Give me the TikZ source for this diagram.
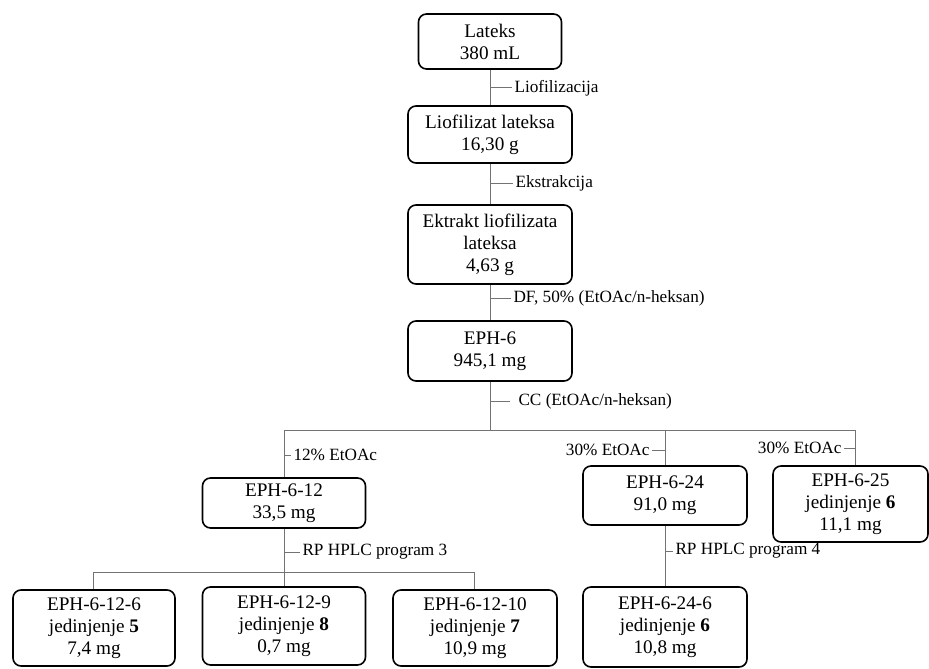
\documentclass[tikz,border=0pt]{standalone}
\usepackage{fontspec}
\setmainfont{Liberation Serif}
\tikzset{
  box/.style={draw, rounded corners=4pt, line width=0.8pt, align=center, inner sep=0pt,
    font=\fontsize{9.6}{11}\selectfont},
  link/.style={draw=black!55, line width=0.5pt},
  lbl/.style={font=\fontsize{8.6}{10}\selectfont, inner sep=1pt}
}
\begin{document}
\begin{tikzpicture}[x=0.5pt, y=-0.5pt]
    \useasboundingbox (0,0) rectangle (929,668);
    % main column
    \node[box, minimum width=71.5pt, minimum height=27.5pt] (lateks) at (490,41.5) {Lateks\\380 mL};
    \node[box, minimum width=82pt, minimum height=28.5pt] (liof) at (490,134.5) {Liofilizat lateksa\\16,30 g};
    \node[box, minimum width=82pt, minimum height=39.5pt] (ekstr) at (490,244.5) {Ektrakt liofilizata\\lateksa\\4,63 g};
    \node[box, minimum width=82pt, minimum height=30pt] (eph6) at (490,351) {EPH-6\\945,1 mg};
    % fractions
    \node[box, minimum width=81.5pt, minimum height=25pt] (eph612) at (284,503) {EPH-6-12\\33,5 mg};
    \node[box, minimum width=82pt, minimum height=29.5pt] (eph624) at (665,495.5) {EPH-6-24\\91,0 mg};
    \node[box, minimum width=77.5pt, minimum height=38pt] (eph625) at (850.5,504) {EPH-6-25\\jedinjenje \textbf{6}\\11,1 mg};
    % compounds
    \node[box, minimum width=81pt, minimum height=38pt] (eph6126) at (94,628) {EPH-6-12-6\\jedinjenje \textbf{5}\\7,4 mg};
    \node[box, minimum width=81.5pt, minimum height=39pt] (eph6129) at (284,626) {EPH-6-12-9\\jedinjenje \textbf{8}\\0,7 mg};
    \node[box, minimum width=82pt, minimum height=38pt] (eph61210) at (475,628) {EPH-6-12-10\\jedinjenje \textbf{7}\\10,9 mg};
    \node[box, minimum width=82pt, minimum height=40pt] (eph6246) at (665,627) {EPH-6-24-6\\jedinjenje \textbf{6}\\10,8 mg};

    \draw[link] (lateks) -- (liof);
    \draw[link] (liof) -- (ekstr);
    \draw[link] (ekstr) -- (eph6);
    \draw[link] (490,88) -- ++(22,0) node[lbl, right] {Liofilizacija};
    \draw[link] (490,183) -- ++(23,0) node[lbl, right] {Ekstrakcija};
    \draw[link] (490,298) -- ++(21,0) node[lbl, right] {DF, 50\% (EtOAc/n-heksan)};

    % column chromatography
    \coordinate (bus) at (490,430);
    \coordinate (busL) at (284,430);
    \coordinate (busM) at (665,430);
    \coordinate (busR) at (855,430);
    \draw[link] (eph6) -- (bus);
    \draw[link] (490,401) -- ++(20,0) node[lbl, right, xshift=3pt] {CC (EtOAc/n-heksan)};
    \draw[link] (busL) -- (busR);
    \draw[link] (busL) -- (eph612);
    \draw[link] (busM) -- (eph624);
    \draw[link] (busR) -- (busR |- eph625.north);
    \draw[link] (284,455) -- ++(7,0) node[lbl, right] {12\% EtOAc};
    \draw[link] (665,450) -- ++(-13,0) node[lbl, left] {30\% EtOAc};
    \draw[link] (855,448) -- ++(-11,0) node[lbl, left] {30\% EtOAc};

    % HPLC
    \coordinate (lowL) at (93,572);
    \coordinate (lowR) at (474,572);
    \draw[link] (eph612) -- (eph6129);
    \draw[link] (lowL) -- (lowR);
    \draw[link] (lowL) -- (lowL |- eph6126.north);
    \draw[link] (lowR) -- (lowR |- eph61210.north);
    \draw[link] (284,552) -- ++(16,0) node[lbl, right] {RP HPLC program 3};
    \draw[link] (eph624) -- (eph6246);
    \draw[link] (665,551) -- ++(8,0) node[lbl, right] {RP HPLC program 4};
\end{tikzpicture}
\end{document}
